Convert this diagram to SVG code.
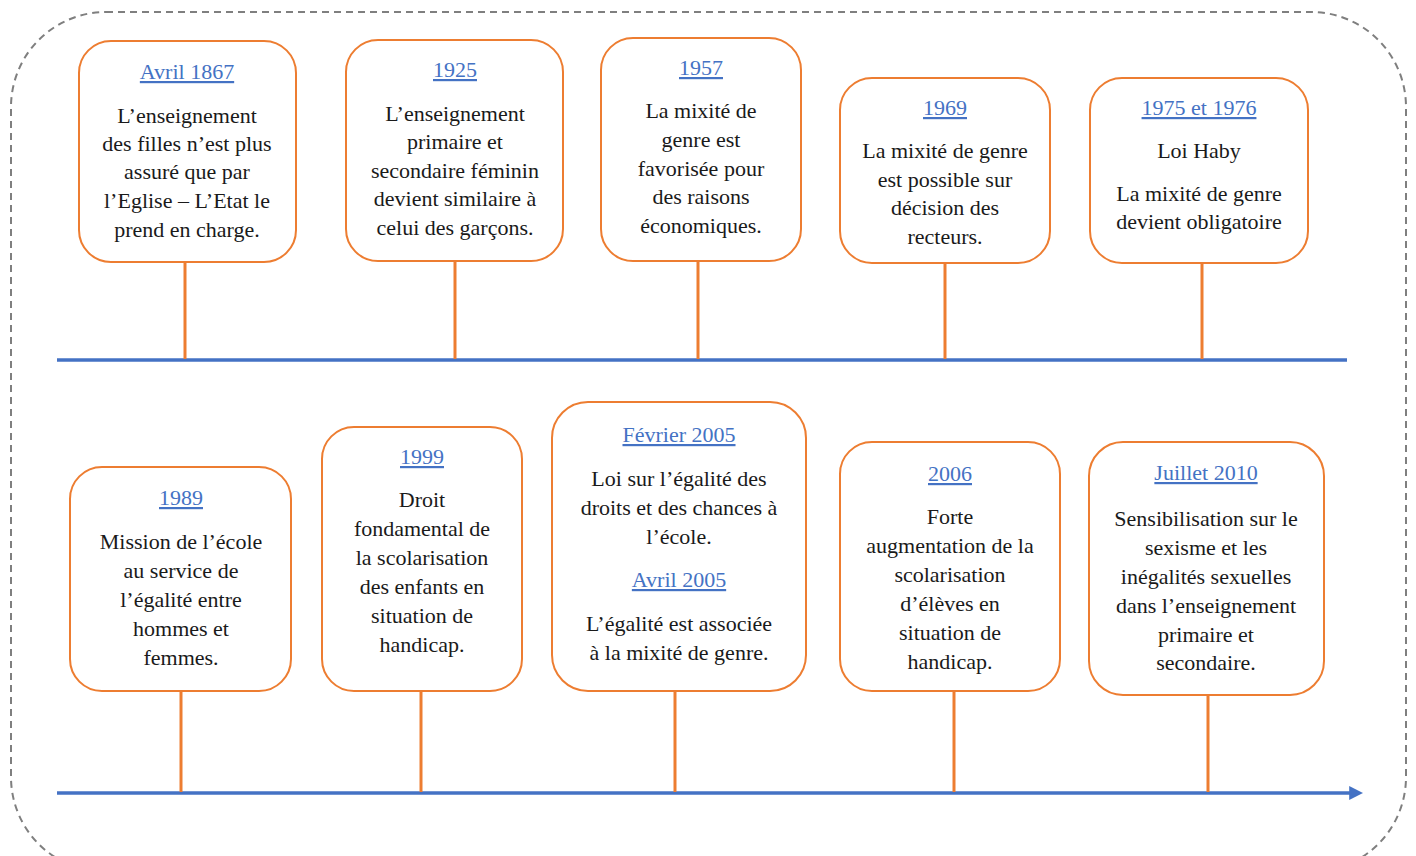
<svg xmlns="http://www.w3.org/2000/svg" width="1416" height="856" viewBox="0 0 1416 856">
<style>
.box{fill:#fff;stroke:#ED7D31;stroke-width:2}
.stem{stroke:#ED7D31;stroke-width:3;fill:none}
.axis{stroke:#4472C4;stroke-width:3.5;fill:none}
.t text{font-size:22px;text-anchor:middle;fill:#1a1a1a}
.t .d{fill:#4472C4;text-decoration:underline}
</style>
<defs>
<marker id="ah" viewBox="0 0 10 10" refX="2" refY="5" markerWidth="4" markerHeight="4" orient="auto" markerUnits="strokeWidth">
<path d="M0,0 L10,5 L0,10 z" fill="#4472C4"/>
</marker>
</defs>
<rect x="11" y="12" width="1395" height="860" rx="95" fill="none" stroke="#7f7f7f" stroke-width="2" stroke-dasharray="7,5"/>
<g id="connectors">
<line class="axis" x1="57" y1="360" x2="1347" y2="360"/>
<line class="axis" x1="57" y1="793" x2="1352" y2="793" marker-end="url(#ah)"/>
<line class="stem" x1="185" y1="262" x2="185" y2="359"/>
<line class="stem" x1="455" y1="261" x2="455" y2="359"/>
<line class="stem" x1="698" y1="261" x2="698" y2="359"/>
<line class="stem" x1="945" y1="263" x2="945" y2="359"/>
<line class="stem" x1="1202" y1="263" x2="1202" y2="359"/>
<line class="stem" x1="181" y1="691" x2="181" y2="792"/>
<line class="stem" x1="421" y1="691" x2="421" y2="792"/>
<line class="stem" x1="675" y1="691" x2="675" y2="792"/>
<line class="stem" x1="954" y1="691" x2="954" y2="792"/>
<line class="stem" x1="1208" y1="695" x2="1208" y2="792"/>
</g>
<g class="t" font-family="'Liberation Serif', 'Times New Roman', 'DejaVu Serif', serif">
<g id="n1867">
<rect class="box" x="79" y="41" width="217" height="221" rx="32"/>
<text class="d" x="187" y="79">Avril 1867</text>
<text x="187" y="123">L’enseignement</text>
<text x="187" y="151">des filles n’est plus</text>
<text x="187" y="179">assuré que par</text>
<text x="187" y="208">l’Eglise – L’Etat le</text>
<text x="187" y="237">prend en charge.</text>
</g>
<g id="n1925">
<rect class="box" x="346" y="40" width="217" height="221" rx="32"/>
<text class="d" x="455" y="77">1925</text>
<text x="455" y="121">L’enseignement</text>
<text x="455" y="149">primaire et</text>
<text x="455" y="178">secondaire féminin</text>
<text x="455" y="206">devient similaire à</text>
<text x="455" y="235">celui des garçons.</text>
</g>
<g id="n1957">
<rect class="box" x="601" y="38" width="200" height="223" rx="32"/>
<text class="d" x="701" y="75">1957</text>
<text x="701" y="118">La mixité de</text>
<text x="701" y="147">genre est</text>
<text x="701" y="176">favorisée pour</text>
<text x="701" y="204">des raisons</text>
<text x="701" y="233">économiques.</text>
</g>
<g id="n1969">
<rect class="box" x="840" y="78" width="210" height="185" rx="32"/>
<text class="d" x="945" y="115">1969</text>
<text x="945" y="158">La mixité de genre</text>
<text x="945" y="187">est possible sur</text>
<text x="945" y="215">décision des</text>
<text x="945" y="244">recteurs.</text>
</g>
<g id="n1975">
<rect class="box" x="1090" y="78" width="218" height="185" rx="32"/>
<text class="d" x="1199" y="115">1975 et 1976</text>
<text x="1199" y="158">Loi Haby</text>
<text x="1199" y="201">La mixité de genre</text>
<text x="1199" y="229">devient obligatoire</text>
</g>
<g id="n1989">
<rect class="box" x="70" y="467" width="221" height="224" rx="32"/>
<text class="d" x="181" y="505">1989</text>
<text x="181" y="549">Mission de l’école</text>
<text x="181" y="578">au service de</text>
<text x="181" y="607">l’égalité entre</text>
<text x="181" y="636">hommes et</text>
<text x="181" y="665">femmes.</text>
</g>
<g id="n1999">
<rect class="box" x="322" y="427" width="200" height="264" rx="32"/>
<text class="d" x="422" y="464">1999</text>
<text x="422" y="507">Droit</text>
<text x="422" y="536">fondamental de</text>
<text x="422" y="565">la scolarisation</text>
<text x="422" y="594">des enfants en</text>
<text x="422" y="623">situation de</text>
<text x="422" y="652">handicap.</text>
</g>
<g id="n2005">
<rect class="box" x="552" y="402" width="254" height="289" rx="36"/>
<text class="d" x="679" y="442">Février 2005</text>
<text x="679" y="486">Loi sur l’égalité des</text>
<text x="679" y="515">droits et des chances à</text>
<text x="679" y="544">l’école.</text>
<text class="d" x="679" y="587">Avril 2005</text>
<text x="679" y="631">L’égalité est associée</text>
<text x="679" y="660">à la mixité de genre.</text>
</g>
<g id="n2006">
<rect class="box" x="840" y="442" width="220" height="249" rx="32"/>
<text class="d" x="950" y="481">2006</text>
<text x="950" y="524">Forte</text>
<text x="950" y="553">augmentation de la</text>
<text x="950" y="582">scolarisation</text>
<text x="950" y="611">d’élèves en</text>
<text x="950" y="640">situation de</text>
<text x="950" y="669">handicap.</text>
</g>
<g id="n2010">
<rect class="box" x="1089" y="442" width="235" height="253" rx="34"/>
<text class="d" x="1206" y="480">Juillet 2010</text>
<text x="1206" y="526">Sensibilisation sur le</text>
<text x="1206" y="555">sexisme et les</text>
<text x="1206" y="584">inégalités sexuelles</text>
<text x="1206" y="613">dans l’enseignement</text>
<text x="1206" y="642">primaire et</text>
<text x="1206" y="670">secondaire.</text>
</g>
</g>
</svg>
